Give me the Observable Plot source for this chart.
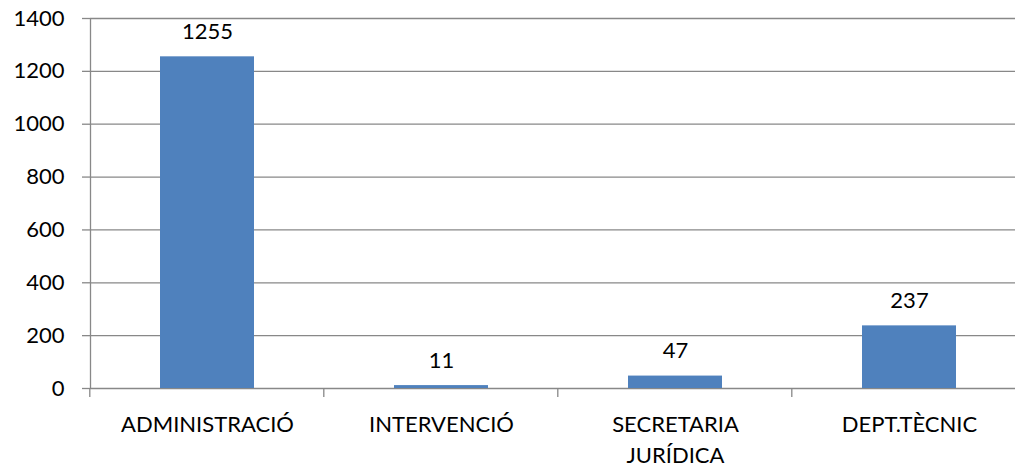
<!DOCTYPE html>
<html><head><meta charset="utf-8">
<script src="https://cdn.jsdelivr.net/npm/d3@7"></script>
<script src="https://cdn.jsdelivr.net/npm/@observablehq/plot@0.6"></script>
<style>
html,body{margin:0;padding:0;background:#fff;overflow:hidden;}
svg{font-family:Lato,"Open Sans",sans-serif;}
</style></head>
<body><div id="chart"></div>
<script>
const categories = ["ADMINISTRACIÓ", "INTERVENCIÓ", "SECRETARIA JURÍDICA", "DEPT.TÈCNIC"];
const values = [1255, 11, 47, 237];
const yTicks = [0, 200, 400, 600, 800, 1000, 1200, 1400];

const data = categories.map((c, i) => ({cat: c, value: values[i]}));

const boundaryTicks = (index, scales) => {
  const g = d3.create("svg:g");
  const step = scales.x.step ? scales.x.step() : scales.x.bandwidth() / 0.4;
  const y0 = scales.y(0);
  categories.forEach(c => {
    const xb = scales.x(c) - step * 0.3;
    g.append("line").attr("x1", xb).attr("x2", xb).attr("y1", y0).attr("y2", y0 + 9)
      .attr("stroke", "#888").attr("stroke-width", 1.3);
  });
  const xe = scales.x(categories[categories.length - 1]) + scales.x.bandwidth() + step * 0.3;
  g.append("line").attr("x1", xe).attr("x2", xe).attr("y1", y0).attr("y2", y0 + 9)
    .attr("stroke", "#888").attr("stroke-width", 1.3);
  return g.node();
};

const chart = Plot.plot({
  width: 1015,
  height: 468,
  marginLeft: 90,
  marginRight: -11,
  marginTop: 18,
  marginBottom: 80,
  style: {fontSize: "22px", fontFamily: "Lato, 'Open Sans', sans-serif", color: "#000", background: "#fff"},
  x: {domain: categories, paddingInner: 0.6, paddingOuter: 0.3, axis: null},
  y: {domain: [0, 1400], ticks: yTicks},
  marks: [
    Plot.gridY(yTicks, {stroke: "#888", strokeOpacity: 1, strokeWidth: 1.3}),
    Plot.axisY(yTicks, {tickSize: 8, tickPadding: 18, tickFormat: "d", stroke: "#888", strokeOpacity: 1, strokeWidth: 1.3, label: null, fill: "#000", fontSize: 22}),
    Plot.ruleX([0], {x: () => categories[0], dx: -117, y1: 0, y2: 1400, stroke: "#888", strokeWidth: 1.3}),
    Plot.barY(data, {x: "cat", y: "value", fill: "#4F81BD"}),
    Plot.text(data, {x: "cat", y: "value", text: d => String(d.value), dy: -25, fontSize: 22, fill: "#000"}),
    Plot.text(data, {x: "cat", y: () => 0, text: d => d.cat.replace(" ", "\n"), dy: 22, lineAnchor: "top", lineHeight: 1.4, fontSize: 22, fill: "#000"}),
    boundaryTicks
  ]
});
document.getElementById("chart").appendChild(chart);
</script></body></html>
